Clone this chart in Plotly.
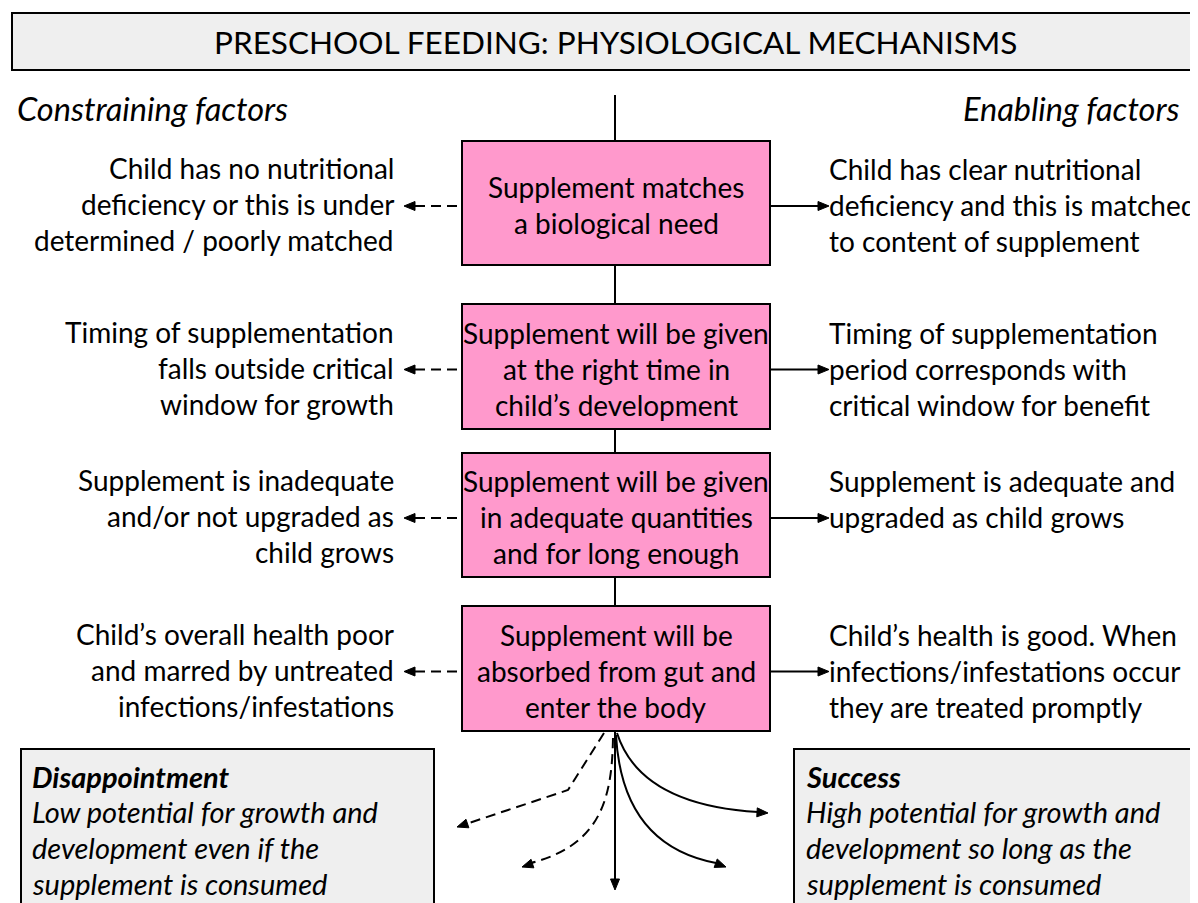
import math
import plotly.graph_objects as go

# ---- content ----
title_text = "PRESCHOOL FEEDING: PHYSIOLOGICAL MECHANISMS"
header_left = "Constraining factors"
header_right = "Enabling factors"
mechanisms = [
    ["Supplement matches", "a biological need"],
    ["Supplement will be given", "at the right time in", "child’s development"],
    ["Supplement will be given", "in adequate quantities", "and for long enough"],
    ["Supplement will be", "absorbed from gut and", "enter the body"],
]
constraints = [
    ["Child has no nutritional", "deficiency or this is under", "determined / poorly matched"],
    ["Timing of supplementation", "falls outside critical", "window for growth"],
    ["Supplement is inadequate", "and/or not upgraded as", "child grows"],
    ["Child’s overall health poor", "and marred by untreated", "infections/infestations"],
]
enablers = [
    ["Child has clear nutritional", "deficiency and this is matched", "to content of supplement"],
    ["Timing of supplementation", "period corresponds with", "critical window for benefit"],
    ["Supplement is adequate and", "upgraded as child grows"],
    ["Child’s health is good. When", "infections/infestations occur", "they are treated promptly"],
]
outcome_left_title = "Disappointment"
outcome_left_text = ["Low potential for growth and", "development even if the", "supplement is consumed"]
outcome_right_title = "Success"
outcome_right_text = ["High potential for growth and", "development so long as the", "supplement is consumed"]

# ---- layout geometry (pixels) ----
W, H = 1198, 903
OFF = 8  # page body margin
FONT = "Lato, 'Open Sans', sans-serif"
PINK = "#ff99cc"
GREY = "#efefef"
box_x0, box_x1 = 462, 770
box_tops = [141, 304, 453, 606]
box_bots = [265, 429, 577, 731]
cx = 615
left_text_x, right_text_x = 396, 827
LS = 36  # line spacing
BODY = 28
DASH = "10px,6px"

shapes = []
annots = []


def text_line(x, y, s, anchor, size=BODY, italic=False, bold=False):
    if italic:
        s = f"<i>{s}</i>"
    if bold:
        s = f"<b>{s}</b>"
    annots.append(dict(x=x, y=y, text=s, showarrow=False,
                       font=dict(size=size, family=FONT, color="black"),
                       xanchor=anchor, yanchor="middle"))


def arrowhead(tip, frm, L=11, w=4.5, color="black"):
    dx, dy = tip[0] - frm[0], tip[1] - frm[1]
    n = math.hypot(dx, dy)
    ux, uy = dx / n, dy / n
    bx, by = tip[0] - ux * L, tip[1] - uy * L
    px, py = -uy * w, ux * w
    path = f"M {tip[0]} {tip[1]} L {bx+px} {by+py} L {bx-px} {by-py} Z"
    shapes.append(dict(type="path", path=path, fillcolor=color,
                       line=dict(color=color, width=1), layer="above"))


# title box
shapes.append(dict(type="rect", x0=12, x1=1215, y0=13, y1=70,
                   fillcolor=GREY, line=dict(color="black", width=2)))
text_line(cx, 42, title_text, "center", size=31.5)

# headers
text_line(15, 108, header_left, "left", size=32.5, italic=True)
text_line(1181, 108, header_right, "right", size=32.5, italic=True)

# central vertical line
shapes.append(dict(type="line", x0=cx, x1=cx, y0=95, y1=884,
                   line=dict(color="black", width=2)))
arrowhead((cx, 890), (cx, 800))

# pink boxes and side texts/arrows
for i, (t0, t1) in enumerate(zip(box_tops, box_bots)):
    mid = (t0 + t1) / 2
    shapes.append(dict(type="rect", x0=box_x0, x1=box_x1, y0=t0, y1=t1,
                       fillcolor=PINK, line=dict(color="black", width=2)))
    m = mechanisms[i]
    y0 = mid + 2 - (len(m) - 1) * LS / 2
    for k, s in enumerate(m):
        text_line(616, y0 + k * LS, s, "center")
    c = constraints[i]
    y0 = mid + 1 - (len(c) - 1) * LS / 2
    for k, s in enumerate(c):
        text_line(left_text_x, y0 + k * LS, s, "right")
    e = enablers[i]
    y0 = mid + 2 - LS
    for k, s in enumerate(e):
        text_line(right_text_x, y0 + k * LS, s, "left")
    ay = mid + 3
    # dashed arrow left
    shapes.append(dict(type="line", x0=457, x1=414, y0=ay, y1=ay,
                       line=dict(color="black", width=2, dash=DASH)))
    arrowhead((404, ay), (457, ay))
    # solid arrow right
    shapes.append(dict(type="line", x0=box_x1, x1=818, y0=ay, y1=ay,
                       line=dict(color="black", width=2)))
    arrowhead((829, ay), (770, ay))

# outcome boxes
shapes.append(dict(type="rect", x0=21, x1=434, y0=749, y1=925,
                   fillcolor=GREY, line=dict(color="black", width=2)))
shapes.append(dict(type="rect", x0=794, x1=1215, y0=749, y1=925,
                   fillcolor=GREY, line=dict(color="black", width=2)))
text_line(30, 776, outcome_left_title, "left", size=29, italic=True, bold=True)
for k, s in enumerate(outcome_left_text):
    text_line(30, 811 + k * LS, s, "left", size=29, italic=True)
text_line(804, 776, outcome_right_title, "left", size=29, italic=True, bold=True)
for k, s in enumerate(outcome_right_text):
    text_line(804, 811 + k * LS, s, "left", size=29, italic=True)

# bottom fan of arrows
shapes.append(dict(type="path", path="M 604 733 L 568 790 L 466 824",
                   line=dict(color="black", width=2, dash=DASH)))
arrowhead((457, 827), (568, 790))
shapes.append(dict(type="path", path="M 613 738 C 612 800, 600 845, 531 863",
                   line=dict(color="black", width=2, dash=DASH)))
arrowhead((522, 867), (580, 848))
shapes.append(dict(type="path", path="M 617 733 Q 640 805 758 812",
                   line=dict(color="black", width=2)))
arrowhead((768, 813), (700, 809))
shapes.append(dict(type="path", path="M 616 735 Q 622 845 716 863",
                   line=dict(color="black", width=2)))
arrowhead((726, 867), (680, 850))

fig = go.Figure()
fig.update_layout(
    width=W, height=H, margin=dict(l=0, r=0, t=0, b=0),
    paper_bgcolor="white", plot_bgcolor="white",
    xaxis=dict(range=[OFF, W + OFF], visible=False, fixedrange=True),
    yaxis=dict(range=[H + OFF, OFF], visible=False, fixedrange=True),
    shapes=shapes, annotations=annots, showlegend=False,
)
fig.write_html("out.html")
